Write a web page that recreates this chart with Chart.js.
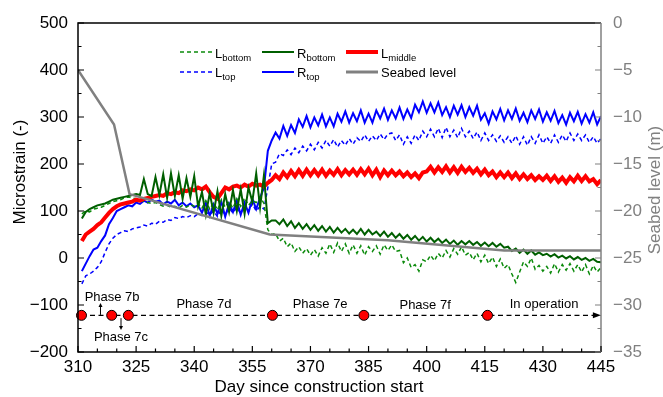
<!DOCTYPE html>
<html>
<head>
<meta charset="utf-8">
<script src="https://cdn.jsdelivr.net/npm/chart.js@4.4.1/dist/chart.umd.min.js"></script>
<style>
  body { margin: 0; background: #fff; }
  #wrap { position: relative; width: 663px; height: 397px; font-family: 'Liberation Sans', Arial, sans-serif; }
  .key { position: absolute; font-size: 13px; line-height: 13px; color: #000; white-space: nowrap; }
  .key sub { font-size: 9.5px; vertical-align: -2.5px; line-height: 0; }
  .swatch { position: absolute; }
</style>
</head>
<body>
<div id="wrap">
  <canvas id="strain" width="663" height="397"></canvas>

  <svg class="swatch" style="left:180px;top:49px" width="34" height="6"><line x1="0" y1="3" x2="34" y2="3" stroke="#0b8a0b" stroke-width="1.5" stroke-dasharray="4 3"/></svg>
  <span class="key" style="left:215px;top:47px">L<sub>bottom</sub></span>
  <svg class="swatch" style="left:262px;top:49px" width="32" height="6"><line x1="0" y1="3" x2="32" y2="3" stroke="#005f00" stroke-width="2"/></svg>
  <span class="key" style="left:297px;top:47px">R<sub>bottom</sub></span>
  <svg class="swatch" style="left:346px;top:49px" width="32" height="6"><line x1="0" y1="3" x2="32" y2="3" stroke="#ff0000" stroke-width="4"/></svg>
  <span class="key" style="left:381px;top:47px">L<sub>middle</sub></span>

  <svg class="swatch" style="left:180px;top:69px" width="34" height="6"><line x1="0" y1="3" x2="34" y2="3" stroke="#0000ff" stroke-width="1.5" stroke-dasharray="4 3"/></svg>
  <span class="key" style="left:215px;top:66px">L<sub>top</sub></span>
  <svg class="swatch" style="left:262px;top:69px" width="32" height="6"><line x1="0" y1="3" x2="32" y2="3" stroke="#0000ff" stroke-width="2"/></svg>
  <span class="key" style="left:297px;top:66px">R<sub>top</sub></span>
  <svg class="swatch" style="left:346px;top:69px" width="32" height="6"><line x1="0" y1="3" x2="32" y2="3" stroke="#808080" stroke-width="3"/></svg>
  <span class="key" style="left:381px;top:66px">Seabed level</span>
</div>

<script>
const FONT = "'Liberation Sans', Arial, sans-serif";

// one reading per day, day 311 .. 445
const firstDay = 311;

const lBottom = [
  94, 100, 98, 104, 106, 108, 112, 116, 120, 122,
  124, 128, 130, 128, 126, 124, 120, 118, 116, 118,
  114, 110, 112, 108, 110, 106, 112, 108, 114, 110,
  116, 106, 122, 104, 118, 102, 124, 108, 120, 106,
  126, 110, 128, 112, 122, 118, 130, 116, 60, 50,
  52, 36, 42, 24, 32, 14, 24, 10, 20, 6,
  18, 4, 22, 10, 30, 12, 32, 14, 30, 10,
  28, 10, 26, 6, 24, 14, 26, 8, 28, 16,
  28, 14, 16, -10, 0, -20, -14, -28, -4, -8,
  6, -6, 10, 0, 16, 2, 20, 8, 24, 6,
  12, -4, 10, -8, 6, -12, 2, -18, -2, -22,
  -14, -34, -52, -30, -8, -18, 0, -24, -16, -28,
  -18, -32, -12, -30, -14, -26, -12, -28, -14, -30,
  -14, -34, -16, -30, -20
];

const rBottom = [
  84, 98, 104, 108, 112, 114, 116, 120, 124, 126,
  128, 130, 132, 134, 136, 134, 168, 136, 132, 172,
  134, 178, 128, 180, 132, 176, 126, 170, 130, 174,
  110, 140, 92, 138, 96, 142, 90, 136, 98, 144,
  100, 146, 94, 150, 120, 180, 108, 176, 74, 80,
  80, 72, 82, 68, 78, 64, 74, 62, 72, 60,
  70, 58, 68, 56, 66, 54, 64, 54, 62, 52,
  60, 51, 62, 50, 60, 50, 56, 47, 56, 45,
  53, 43, 51, 41, 49, 39, 47, 37, 45, 35,
  43, 34, 41, 32, 39, 30, 37, 28, 36, 29,
  36, 28, 34, 26, 33, 25, 32, 24, 30, 22,
  24, 15, 20, 11, 18, 9, 16, 7, 12, 6,
  9, 3, 8, 1, 5, -1, 4, -3, 2, -4,
  0, -6, -2, -8, -9
];

const lMiddle = [
  36, 50, 56, 62, 70, 76, 86, 96, 104, 110,
  114, 116, 118, 120, 124, 122, 126, 128, 130, 132,
  134, 132, 138, 136, 140, 138, 144, 142, 146, 144,
  150, 146, 152, 140, 130, 126, 138, 150, 146, 152,
  154, 150, 156, 152, 158, 154, 156, 152, 160, 166,
  176, 168, 182, 172, 185, 174, 187, 175, 188, 176,
  187, 176, 188, 175, 186, 177, 189, 176, 187, 178,
  188, 177, 189, 178, 190, 176, 188, 172, 186, 176,
  186, 176, 184, 174, 182, 172, 180, 170, 182, 184,
  194, 182, 193, 183, 195, 182, 193, 181, 194, 183,
  192, 181, 190, 178, 188, 176, 184, 172, 182, 172,
  182, 170, 180, 168, 178, 168, 176, 166, 174, 166,
  175, 164, 174, 162, 171, 160, 172, 163, 175, 164,
  174, 163, 168, 157, 166
];

const lTop = [
  -55, -38, -34, -28, -20, -8, 12, 30, 42, 50,
  54, 58, 56, 62, 64, 66, 70, 68, 74, 72,
  78, 76, 82, 80, 86, 84, 88, 86, 90, 88,
  94, 90, 98, 92, 100, 88, 104, 92, 106, 96,
  108, 94, 112, 98, 116, 100, 110, 104, 150, 200,
  204, 222, 218, 230, 220, 234, 224, 238, 228, 242,
  230, 246, 234, 250, 238, 252, 236, 250, 240, 254,
  242, 256, 248, 262, 248, 260, 250, 264, 252, 264,
  266, 250, 262, 242, 258, 244, 262, 250, 270, 258,
  274, 258, 276, 256, 278, 258, 272, 256, 276, 258,
  270, 254, 268, 250, 266, 250, 262, 248, 260, 246,
  258, 244, 260, 242, 258, 240, 258, 244, 262, 244,
  258, 244, 262, 246, 262, 248, 266, 250, 264, 250,
  262, 246, 258, 244, 254
];

const rTop = [
  -28, -12, 4, 18, 22, 36, 48, 72, 85, 100,
  104, 108, 112, 110, 118, 115, 122, 118, 124, 120,
  122, 114, 120, 116, 124, 112, 118, 110, 116, 108,
  112, 96, 118, 90, 114, 94, 120, 88, 116, 98,
  122, 92, 118, 96, 126, 104, 128, 150, 228, 250,
  267, 254, 281, 260, 283, 266, 295, 279, 302, 278,
  299, 282, 305, 280, 299, 280, 307, 290, 312, 288,
  308, 291, 314, 288, 307, 288, 314, 297, 318, 294,
  314, 297, 320, 296, 316, 298, 326, 310, 333, 309,
  329, 310, 331, 304, 321, 300, 324, 305, 325, 300,
  321, 303, 324, 294, 308, 286, 312, 295, 317, 293,
  314, 296, 318, 292, 309, 289, 314, 296, 316, 290,
  310, 292, 313, 287, 304, 284, 309, 291, 311, 286,
  306, 288, 310, 284, 302
];

// seabed level (m), right axis
const seabedDays = [310, 319.3, 323.3, 359.5, 390, 420, 445];
const seabedLevel = [-5, -10.8, -18.2, -22.5, -23.1, -24.2, -24.2];

// construction phase boundaries
const phaseDays = [310.9, 318.7, 323, 360.2, 383.8, 415.7];
const phaseEnd = 444.2;
const phaseNames = ['Phase 7b', 'Phase 7c', 'Phase 7d', 'Phase 7e', 'Phase 7f', 'In operation'];

const xTicks = [310, 325, 340, 355, 370, 385, 400, 415, 430, 445];

const series = vals => vals.map((v, i) => ({ x: firstDay + i, y: v }));
const minus = v => String(v).replace('-', '\u2212');

const phaseLine = phaseDays.concat([phaseEnd]).map(d => ({ x: d, y: -122 }));

const decor = {
  id: 'decor',
  afterDatasetsDraw(chart) {
    const { ctx, chartArea: a, scales: { x, y, y2 } } = chart;
    ctx.save();

    // frame
    ctx.lineWidth = 1.5;
    ctx.strokeStyle = '#000';
    ctx.beginPath();
    ctx.moveTo(a.right, a.top); ctx.lineTo(a.left, a.top);
    ctx.lineTo(a.left, a.bottom); ctx.lineTo(a.right, a.bottom);
    ctx.stroke();
    ctx.strokeStyle = '#808080';
    ctx.beginPath();
    ctx.moveTo(a.right, a.top); ctx.lineTo(a.right, a.bottom);
    ctx.stroke();

    // inward ticks
    ctx.lineWidth = 1.2;
    ctx.strokeStyle = '#000';
    ctx.beginPath();
    for (let v = -200; v <= 500; v += 50) {
      const p = y.getPixelForValue(v), len = v % 100 === 0 ? 6 : 3.5;
      ctx.moveTo(a.left, p); ctx.lineTo(a.left + len, p);
    }
    for (let d = 310; d <= 445; d += 5) {
      const p = x.getPixelForValue(d), len = (d - 310) % 15 === 0 ? 6 : 3.5;
      ctx.moveTo(p, a.bottom); ctx.lineTo(p, a.bottom - len);
    }
    ctx.stroke();
    ctx.strokeStyle = '#808080';
    ctx.beginPath();
    for (let v = -35; v <= 0; v += 2.5) {
      const p = y2.getPixelForValue(v), len = v % 5 === 0 ? 6 : 3.5;
      ctx.moveTo(a.right, p); ctx.lineTo(a.right - len, p);
    }
    ctx.stroke();

    // arrow head at end of the phase line
    const ex = x.getPixelForValue(phaseEnd), ey = y.getPixelForValue(-122);
    ctx.fillStyle = '#000';
    ctx.beginPath();
    ctx.moveTo(ex + 3, ey); ctx.lineTo(ex - 5, ey - 3); ctx.lineTo(ex - 5, ey + 3);
    ctx.closePath(); ctx.fill();

    // small arrows for 7b / 7c
    const arrow = (day, from, to) => {
      const px = x.getPixelForValue(day), p0 = y.getPixelForValue(from), p1 = y.getPixelForValue(to);
      const dir = p1 > p0 ? 1 : -1;
      ctx.lineWidth = 1;
      ctx.beginPath(); ctx.moveTo(px, p0); ctx.lineTo(px, p1 - dir * 3); ctx.stroke();
      ctx.beginPath(); ctx.moveTo(px, p1); ctx.lineTo(px - 2, p1 - dir * 4); ctx.lineTo(px + 2, p1 - dir * 4);
      ctx.closePath(); ctx.fill();
    };
    ctx.strokeStyle = '#000';
    arrow(315.8, -121, -96);
    arrow(321.1, -128, -153);

    // phase names
    const spots = [[318.8, -83], [321.1, -168], [342.5, -98], [372.5, -98], [399.6, -100], [430.3, -98]];
    ctx.font = '13px ' + FONT;
    ctx.textAlign = 'center';
    ctx.textBaseline = 'middle';
    phaseNames.forEach((t, i) => ctx.fillText(t, x.getPixelForValue(spots[i][0]), y.getPixelForValue(spots[i][1])));

    // axis titles
    ctx.font = '17px ' + FONT;
    ctx.fillText('Day since construction start', 319, 387);
    ctx.save();
    ctx.translate(20, 172); ctx.rotate(-Math.PI / 2);
    ctx.fillText('Microstrain (-)', 0, 0);
    ctx.restore();
    ctx.save();
    ctx.fillStyle = '#808080';
    ctx.translate(655, 190); ctx.rotate(-Math.PI / 2);
    ctx.fillText('Seabed level (m)', 0, 0);
    ctx.restore();

    ctx.restore();
  }
};

new Chart(document.getElementById('strain'), {
  type: 'line',
  data: {
    datasets: [
      { label: 'Phases', data: phaseLine, borderColor: '#000', borderWidth: 1.3, borderDash: [5, 3.5],
        pointRadius: [5, 5, 5, 5, 5, 5, 0], pointBackgroundColor: '#ff0000', pointBorderColor: '#000',
        pointBorderWidth: 1, clip: false, order: 0 },
      { label: 'Seabed level', data: seabedDays.map((d, i) => ({ x: d, y: seabedLevel[i] })), yAxisID: 'y2',
        borderColor: '#808080', borderWidth: 2.5, order: 1 },
      { label: 'R_bottom', data: series(rBottom), borderColor: '#005f00', borderWidth: 2, order: 2 },
      { label: 'L_middle', data: series(lMiddle), borderColor: '#ff0000', borderWidth: 4, order: 3 },
      { label: 'L_bottom', data: series(lBottom), borderColor: '#0b8a0b', borderWidth: 1.5, borderDash: [4, 3], order: 4 },
      { label: 'R_top', data: series(rTop), borderColor: '#0000ff', borderWidth: 2, order: 5 },
      { label: 'L_top', data: series(lTop), borderColor: '#0000ff', borderWidth: 1.5, borderDash: [4, 3], order: 6 }
    ]
  },
  options: {
    responsive: false,
    animation: false,
    devicePixelRatio: 1,
    layout: { padding: { top: 23, left: 0, right: 0, bottom: 0 } },
    elements: { point: { radius: 0 }, line: { tension: 0, fill: false } },
    plugins: { legend: { display: false }, tooltip: { enabled: false } },
    scales: {
      x: {
        type: 'linear', min: 310, max: 445,
        afterBuildTicks: s => { s.ticks = xTicks.map(v => ({ value: v })); },
        ticks: { color: '#000', padding: 5, maxRotation: 0, autoSkip: false, font: { size: 17, family: FONT } },
        grid: { display: false, drawTicks: false },
        border: { display: false },
        afterFit: s => { s.height = 45; }
      },
      y: {
        position: 'left', min: -200, max: 500,
        ticks: { stepSize: 100, color: '#000', padding: 10, callback: minus, font: { size: 17, family: FONT } },
        grid: { display: false, drawTicks: false },
        border: { display: false },
        afterFit: s => { s.width = 78; }
      },
      y2: {
        position: 'right', min: -35, max: 0,
        ticks: { stepSize: 5, color: '#808080', padding: 12, callback: minus, font: { size: 17, family: FONT } },
        grid: { display: false, drawTicks: false },
        border: { display: false },
        afterFit: s => { s.width = 62; }
      }
    }
  },
  plugins: [decor]
});
</script>
</body>
</html>
